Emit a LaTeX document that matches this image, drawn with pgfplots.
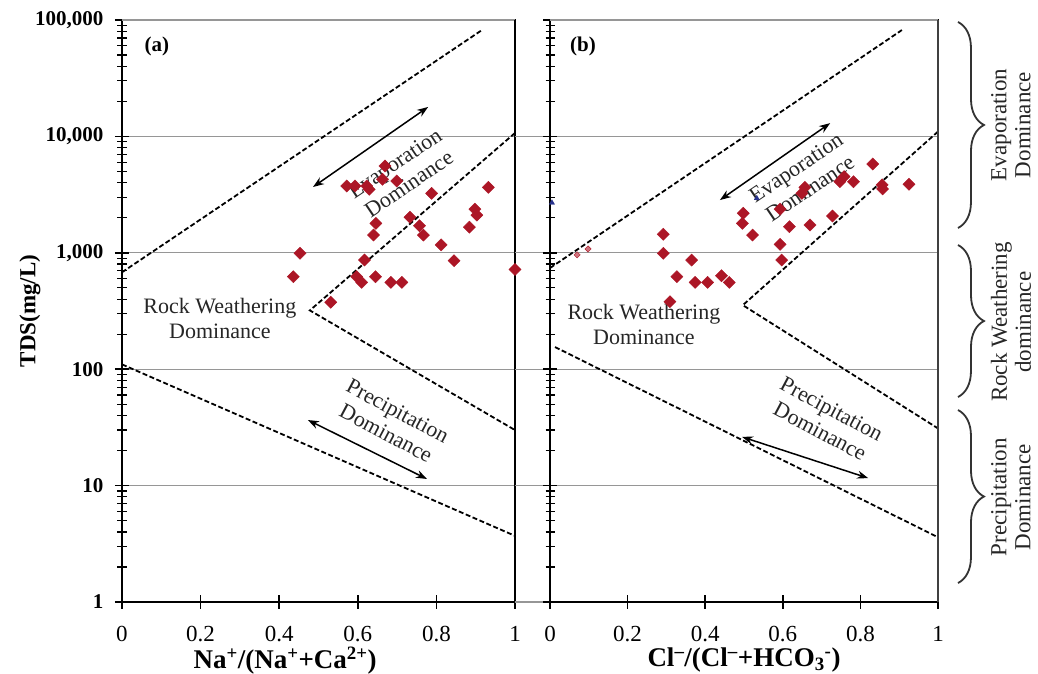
\documentclass[border=0pt]{standalone}
\usepackage{fontspec}
\setmainfont{Liberation Serif}
\usepackage{pgfplots}
\pgfplotsset{compat=1.18}
\usetikzlibrary{arrows.meta,decorations.pathreplacing}
\definecolor{dred}{RGB}{172,22,38}
\definecolor{dblue}{RGB}{40,50,140}
\definecolor{gridgray}{RGB}{150,150,150}

\tikzset{
  bnd/.style={black, line width=1.8pt, dash pattern=on 5pt off 2.5pt},
  dbl/.style={<->, >={Stealth[length=11pt,width=8pt]}, line width=1.5pt},
  lbl/.style={font=\fontsize{22}{25}\selectfont, align=center, text=black!85},
  rlbl/.style={font=\fontsize{23}{24}\selectfont, align=center, text=black!85, rotate=90},
  brc/.style={decorate, decoration={brace, amplitude=26pt}, line width=1.8pt, draw=black!80},
}

\begin{document}
\begin{tikzpicture}
\useasboundingbox (0pt,0pt) rectangle (1038pt,673pt);

% ---------- panel (a) ----------
\begin{axis}[at={(122pt,71pt)}, anchor=south west,
  scale only axis, width=393pt, height=582pt,
  ymode=log, ymin=1, ymax=100000, xmin=0, xmax=1,
  ytick={1,10,100,1000,10000,100000},
  yticklabels={1,10,100,{1,000},{10,000},{100,000}},
  minor ytick={2,3,4,5,6,7,8,9,20,30,40,50,60,70,80,90,200,300,400,500,600,700,800,900,
    2000,3000,4000,5000,6000,7000,8000,9000,20000,30000,40000,50000,60000,70000,80000,90000},
  xtick={0,0.2,0.4,0.6,0.8,1},
  xticklabels={0,0.2,0.4,0.6,0.8,1},
  tick pos=left, tick align=center,
  major tick length=14pt, minor tick length=9pt,
  tick style={draw=black, line width=1.6pt},
  minor tick style={draw=black, line width=1.2pt},
  axis line style={black, line width=1.6pt},
  ymajorgrids, grid style={gridgray, line width=1.2pt},
  yticklabel style={font=\fontsize{21}{24}\selectfont\bfseries, xshift=-8pt},
  xticklabel style={font=\fontsize{23}{26}\selectfont, yshift=-14pt},
  clip=false,
  ylabel={TDS(mg/L)},
  ylabel style={font=\fontsize{23}{26}\selectfont\bfseries,
    at={(axis description cs:-0.234,0.5)}, anchor=center},
  xlabel={Na\textsuperscript{+}/(Na\textsuperscript{+}+Ca\textsuperscript{2+})},
  xlabel style={font=\fontsize{27}{30}\selectfont\bfseries,
    at={(axis description cs:0.415,-0.1)}, anchor=center},
]
\addplot[bnd] coordinates {(0,680) (0.916,82000)};
\addplot[bnd] coordinates {(1,10700) (0.478,320) (1,30)};
\addplot[bnd] coordinates {(0,110) (1,3.7)};
\draw[dbl] (axis cs:0.486,3675) -- (axis cs:0.779,17900);
\draw[dbl] (axis cs:0.473,36.6) -- (axis cs:0.776,11.4);
\addplot[only marks, mark=square*, mark size=4.3pt,
  mark options={rotate=45, fill=dred, draw=dred}] coordinates {
  (0.572,3750) (0.593,3750) (0.623,3750) (0.629,3510) (0.663,4280)
  (0.669,5570) (0.699,4140) (0.788,3240) (0.932,3650) (0.898,2370)
  (0.903,2110) (0.884,1660) (0.733,2020) (0.757,1710) (0.767,1420)
  (0.812,1170) (0.845,855) (0.646,1790) (0.640,1420) (0.453,990)
  (0.436,623) (0.617,867) (0.597,623) (0.610,557) (0.645,623)
  (0.684,557) (0.712,557) (0.531,376) (1.0,720)
};
\node[lbl, rotate=34] at (axis cs:0.712,4800) {Evaporation\\Dominance};
\node[lbl] at (axis cs:0.249,275) {Rock Weathering\\Dominance};
\node[lbl, rotate=-28] at (axis cs:0.687,35.2) {Precipitation\\Dominance};
\node[font=\fontsize{21}{24}\selectfont\bfseries] at (rel axis cs:0.089,0.955) {(a)};
\draw[gridgray, line width=1.6pt] (rel axis cs:0,1) -- (rel axis cs:1,1);
\draw[black, line width=2.5pt] (rel axis cs:1,0) -- (rel axis cs:1,1);
\draw[gridgray, line width=1.2pt] (axis cs:1,1) -- (axis cs:1.09,1);
\draw[gridgray, line width=1.2pt] (axis cs:1,10) -- (axis cs:1.09,10);
\draw[gridgray, line width=1.2pt] (axis cs:1,100) -- (axis cs:1.09,100);
\draw[gridgray, line width=1.2pt] (axis cs:1,1000) -- (axis cs:1.09,1000);
\draw[gridgray, line width=1.2pt] (axis cs:1,10000) -- (axis cs:1.09,10000);
\end{axis}

% ---------- panel (b) ----------
\begin{axis}[at={(550pt,71pt)}, anchor=south west,
  scale only axis, width=388pt, height=582pt,
  ymode=log, ymin=1, ymax=100000, xmin=0, xmax=1,
  ytick={1,10,100,1000,10000,100000},
  yticklabels={},
  minor ytick={2,3,4,5,6,7,8,9,20,30,40,50,60,70,80,90,200,300,400,500,600,700,800,900,
    2000,3000,4000,5000,6000,7000,8000,9000,20000,30000,40000,50000,60000,70000,80000,90000},
  xtick={0,0.2,0.4,0.6,0.8,1},
  xticklabels={0,0.2,0.4,0.6,0.8,1},
  tick pos=left, tick align=center,
  major tick length=14pt, minor tick length=9pt,
  tick style={draw=black, line width=1.6pt},
  minor tick style={draw=black, line width=1.2pt},
  axis line style={black, line width=1.6pt},
  ymajorgrids, grid style={gridgray, line width=1.2pt},
  xticklabel style={font=\fontsize{23}{26}\selectfont, yshift=-14pt},
  clip=false,
  xlabel={Cl\textsuperscript{\textendash}/(Cl\textsuperscript{\textendash}+HCO\textsubscript{3}\textsuperscript{-})},
  xlabel style={font=\fontsize{27}{30}\selectfont\bfseries,
    at={(axis description cs:0.5,-0.1)}, anchor=center},
]
\addplot[bnd] coordinates {(0,740) (0.907,82000)};
\addplot[bnd] coordinates {(1,11000) (0.497,355) (1,31)};
\addplot[bnd] coordinates {(0.013,155) (1,3.6)};
\draw[dbl] (axis cs:0.438,2840) -- (axis cs:0.722,13000);
\draw[dbl] (axis cs:0.495,26.2) -- (axis cs:0.820,11.6);
\addplot[only marks, mark=square*, mark size=4.3pt,
  mark options={rotate=45, fill=dred, draw=dred}] coordinates {
  (0.292,1442) (0.292,990) (0.365,867) (0.327,623) (0.374,557)
  (0.406,557) (0.442,636) (0.462,557) (0.309,380) (0.498,2185)
  (0.496,1790) (0.522,1420) (0.593,2370) (0.617,1675) (0.670,1733)
  (0.728,2070) (0.593,1183) (0.597,867) (0.657,3650) (0.649,3240)
  (0.747,4080) (0.758,4510) (0.782,4080) (0.832,5790) (0.857,3540)
  (0.856,3840) (0.925,3880)
};
\addplot[only marks, mark=square*, mark size=2.2pt,
  mark options={rotate=45, fill=dred!60, draw=dred}] coordinates {(0.07,960) (0.098,1080)};
\addplot[only marks, mark=triangle*, mark size=3pt,
  mark options={fill=dblue, draw=dblue}] coordinates {(0.533,2940) (0.005,2690)};
\node[lbl, rotate=34] at (axis cs:0.652,4390) {Evaporation\\Dominance};
\node[lbl] at (axis cs:0.242,240) {Rock Weathering\\Dominance};
\node[lbl, rotate=-28] at (axis cs:0.711,36.6) {Precipitation\\Dominance};
\node[font=\fontsize{21}{24}\selectfont\bfseries] at (rel axis cs:0.085,0.955) {(b)};
\draw[gridgray, line width=1.6pt] (rel axis cs:0,1) -- (rel axis cs:1,1);
\draw[black!75, line width=2pt] (rel axis cs:1,0) -- (rel axis cs:1,1);
% domain braces on the right
\draw[brc] (rel axis cs:1.0515,0.9966) -- (rel axis cs:1.0515,0.6426);
\draw[brc] (rel axis cs:1.0515,0.6134) -- (rel axis cs:1.0515,0.3522);
\draw[brc] (rel axis cs:1.0515,0.3299) -- (rel axis cs:1.0515,0.0326);
\node[rlbl] at (rel axis cs:1.188,0.8196) {Evaporation\\Dominance};
\node[rlbl] at (rel axis cs:1.188,0.481) {Rock Weathering\\dominance};
\node[rlbl] at (rel axis cs:1.188,0.180) {Precipitation\\Dominance};
\end{axis}
\end{tikzpicture}
\end{document}
